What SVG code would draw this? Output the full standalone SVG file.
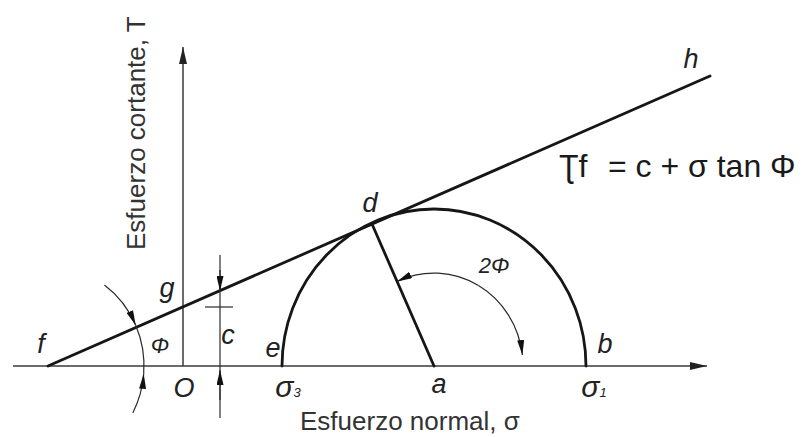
<svg xmlns="http://www.w3.org/2000/svg" width="804" height="437" viewBox="0 0 804 437">
  <style>
    .axis { stroke: #3a3a3a; stroke-width: 1.5; fill: none; }
    .thick { stroke: #161616; stroke-width: 2.8; fill: none; stroke-linecap: round; }
    .dim { stroke: #2a2a2a; stroke-width: 1.2; fill: none; }
    .lbl { font-family: "Liberation Sans", Arial, sans-serif; font-style: italic; font-size: 27px; fill: #222; text-anchor: middle; }
    .title { font-family: "Liberation Sans", Arial, sans-serif; font-size: 26px; fill: #333; }
    .eq { font-family: "Liberation Sans", "DejaVu Sans", Arial, sans-serif; font-size: 32px; fill: #1a1a1a; }
  </style>
  <defs>
    <marker id="axArrow" viewBox="0 0 17 8" refX="17" refY="4" markerWidth="17" markerHeight="8" markerUnits="userSpaceOnUse" orient="auto">
      <path d="M0,0 L17,4 L0,8 z" fill="#222"/>
    </marker>
    <marker id="dimArrow" viewBox="0 0 15 7" refX="15" refY="3.5" markerWidth="15" markerHeight="7" markerUnits="userSpaceOnUse" orient="auto">
      <path d="M0,0 L15,3.5 L0,7 z" fill="#111"/>
    </marker>
  </defs>

  <rect width="804" height="437" fill="#ffffff"/>

  <g id="axes">
    <line class="axis" x1="13" y1="366" x2="707" y2="366" marker-end="url(#axArrow)"/>
    <line class="axis" x1="183" y1="366" x2="183" y2="47" marker-end="url(#axArrow)"/>
    <text class="title" x="300" y="430">Esfuerzo normal, σ</text>
    <text class="title" transform="translate(145,250) rotate(-90)">Esfuerzo cortante, T</text>
  </g>

  <g id="connectors">
    <line id="envelope" class="thick" x1="48" y1="366" x2="710" y2="76"/>
    <path id="mohr-circle" class="thick" d="M282,366 A152,157 0 0 1 586,366"/>
    <line id="radius-ad" class="thick" x1="434" y1="366" x2="372" y2="224"/>

    <g id="phi-dimension">
      <path class="dim" d="M104.4,285.1 A96,100 0 0 1 135.7,325.3" marker-end="url(#dimArrow)"/>
      <path class="dim" d="M135.7,325.3 A96,100 0 0 1 143.7,373.8"/>
      <path class="dim" d="M132.8,412.9 A96,100 0 0 0 143.7,373.8" marker-end="url(#dimArrow)"/>
    </g>

    <g id="two-phi-dimension">
      <path class="dim" d="M478.5,285.5 A89,93 0 0 0 397.1,281.4" marker-end="url(#dimArrow)"/>
      <path class="dim" d="M478.5,285.5 A89,93 0 0 1 522.4,355" marker-end="url(#dimArrow)"/>
    </g>

    <g id="c-dimension">
      <line class="dim" x1="220" y1="255" x2="220" y2="418"/>
      <line class="dim" x1="205" y1="307" x2="233" y2="307"/>
      <path class="dim" d="M220,270 L220,291" marker-end="url(#dimArrow)"/>
      <path class="dim" d="M220,400 L220,370" marker-end="url(#dimArrow)"/>
    </g>
  </g>

  <g id="labels">
    <g id="node-f"><text class="lbl" x="41" y="353">f</text></g>
    <g id="node-g"><text class="lbl" x="167" y="297">g</text></g>
    <g id="node-phi"><text class="lbl" x="160" y="353" style="font-size:22px">Φ</text></g>
    <g id="node-O"><text class="lbl" x="184" y="397">O</text></g>
    <g id="node-c"><text class="lbl" x="228" y="344">c</text></g>
    <g id="node-e"><text class="lbl" x="273" y="357">e</text></g>
    <g id="node-s3"><text class="lbl" x="288" y="397" style="font-size:30px">σ<tspan style="font-size:13px">3</tspan></text></g>
    <g id="node-a"><text class="lbl" x="439" y="393">a</text></g>
    <g id="node-s1"><text class="lbl" x="594" y="397" style="font-size:30px">σ<tspan style="font-size:13px">1</tspan></text></g>
    <g id="node-b"><text class="lbl" x="605" y="353">b</text></g>
    <g id="node-d"><text class="lbl" x="370" y="212">d</text></g>
    <g id="node-h"><text class="lbl" x="691" y="68">h</text></g>
    <g id="node-2phi"><text class="lbl" x="494" y="273" style="font-size:22px">2Φ</text></g>
    <g id="equation"><text class="eq" x="559" y="177">Ʈf<tspan x="608">= c + σ tan Φ</tspan></text></g>
  </g>
</svg>
